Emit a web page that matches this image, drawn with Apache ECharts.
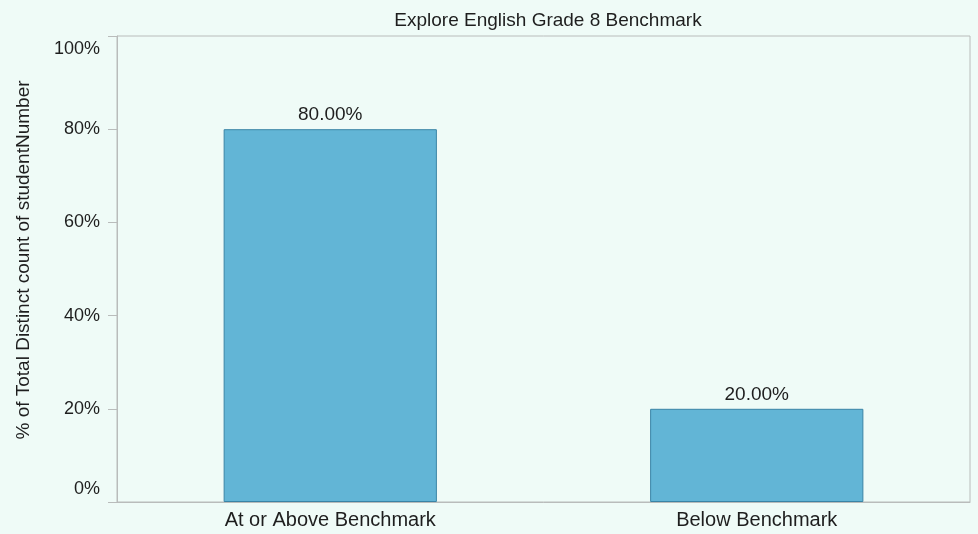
<!DOCTYPE html>
<html>
<head>
<meta charset="utf-8">
<script src="https://cdn.jsdelivr.net/npm/echarts@6/dist/echarts.min.js"></script>
<style>
  html, body { margin: 0; padding: 0; background: #effbf7; }
  #chart { width: 978px; height: 534px; }
</style>
</head>
<body>
<div id="chart"></div>
<script>
const categories = ['At or Above Benchmark', 'Below Benchmark'];
const shares = [0.80, 0.20];
const yTicks = [0, 0.2, 0.4, 0.6, 0.8, 1.0];

const axisGray = '#b9bcbb';
const textColor = '#1e1e1e';
const fontFamily = '"Liberation Sans", Arial, sans-serif';

const chart = echarts.init(document.getElementById('chart'));
chart.setOption({
  backgroundColor: '#effbf7',
  textStyle: { fontFamily: fontFamily },
  title: {
    text: 'Explore English Grade 8 Benchmark',
    left: 543,
    top: 6,
    textAlign: 'center',
    textStyle: { fontSize: 19, fontWeight: 'normal', color: textColor, fontFamily: fontFamily }
  },
  grid: {
    left: 117, right: 8, top: 36, bottom: 32,
    show: true,
    borderColor: axisGray,
    borderWidth: 1,
    backgroundColor: 'transparent'
  },
  xAxis: {
    type: 'category',
    data: categories,
    boundaryGap: true,
    axisLine: { lineStyle: { color: axisGray } },
    axisTick: { length: 8, lineStyle: { color: axisGray } },
    axisLabel: { color: textColor, fontSize: 20, margin: 8 }
  },
  yAxis: {
    type: 'value',
    min: yTicks[0],
    max: yTicks[yTicks.length - 1],
    interval: 0.2,
    name: '% of Total Distinct count of studentNumber',
    nameLocation: 'middle',
    nameGap: 84,
    nameTextStyle: { color: textColor, fontSize: 19, padding: [0, 0, 0, 18] },
    axisLine: { show: true, lineStyle: { color: axisGray } },
    axisTick: { show: true, length: 9, lineStyle: { color: axisGray } },
    splitLine: { show: false },
    axisLabel: {
      color: textColor,
      fontSize: 18,
      margin: 17,
      formatter: function (v) {
        const s = Math.round(v * 100) + '%';
        if (v === 0) return '{lo|' + s + '}';
        if (v === 1) return '{hi|' + s + '}';
        return s;
      },
      rich: {
        lo: { fontSize: 18, color: textColor, padding: [0, 0, 26, 0] },
        hi: { fontSize: 18, color: textColor, padding: [26, 0, 0, 0] }
      }
    }
  },
  series: [{
    type: 'bar',
    data: shares,
    barWidth: '50%',
    itemStyle: { color: '#62b5d6', borderColor: '#3a84a6', borderWidth: 1 },
    label: {
      show: true,
      position: 'top',
      distance: 5,
      color: textColor,
      fontSize: 19,
      formatter: function (p) { return (p.value * 100).toFixed(2) + '%'; }
    }
  }]
});
</script>
</body>
</html>
